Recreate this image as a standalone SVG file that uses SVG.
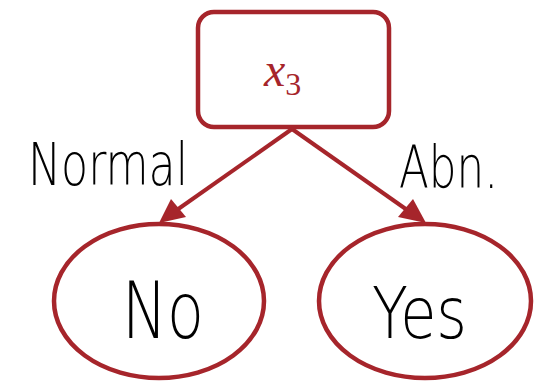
<svg xmlns="http://www.w3.org/2000/svg" width="545" height="382" viewBox="0 0 545 382">
  <style>
    .node { fill: #ffffff; stroke: #a6252b; stroke-width: 4.5; }
    .edge { stroke: #a6252b; stroke-width: 4; fill: none; }
    .head { fill: #a6252b; }
    .hand { font-family: "DejaVu Sans", "Liberation Sans", sans-serif; font-weight: 200; fill: #000000; }
    .var { font-family: "Liberation Serif", "DejaVu Serif", serif; font-style: italic; fill: #a6252b; }
  </style>
  <rect x="0" y="0" width="545" height="382" fill="#ffffff"/>

  <!-- connectors from the split node to the leaves -->
  <g id="edges">
    <line class="edge" x1="292" y1="129" x2="174" y2="212"/>
    <polygon class="head" points="159,223 171,199 186,217"/>
    <line class="edge" x1="292" y1="129" x2="410" y2="212"/>
    <polygon class="head" points="426,223 398,217 413,199"/>
    <text class="hand" x="28" y="185" font-size="58" textLength="160" lengthAdjust="spacingAndGlyphs">Normal</text>
    <text class="hand" x="399" y="188" font-size="58" textLength="99" lengthAdjust="spacingAndGlyphs">Abn.</text>
  </g>

  <!-- split node -->
  <g id="node-x3">
    <rect class="node" x="198" y="12" width="191" height="115" rx="16" ry="16"/>
    <text class="var" x="264" y="86" font-size="48">x<tspan font-size="32" dy="9" font-style="normal">3</tspan></text>
  </g>

  <!-- leaf: No -->
  <g id="node-no">
    <ellipse class="node" cx="159" cy="301" rx="105" ry="77"/>
    <text class="hand" x="122" y="338" font-size="78" textLength="82" lengthAdjust="spacingAndGlyphs">No</text>
  </g>

  <!-- leaf: Yes -->
  <g id="node-yes">
    <ellipse class="node" cx="425" cy="301" rx="106" ry="77"/>
    <text class="hand" x="372" y="338" font-size="72" textLength="95" lengthAdjust="spacingAndGlyphs">Yes</text>
  </g>
</svg>
